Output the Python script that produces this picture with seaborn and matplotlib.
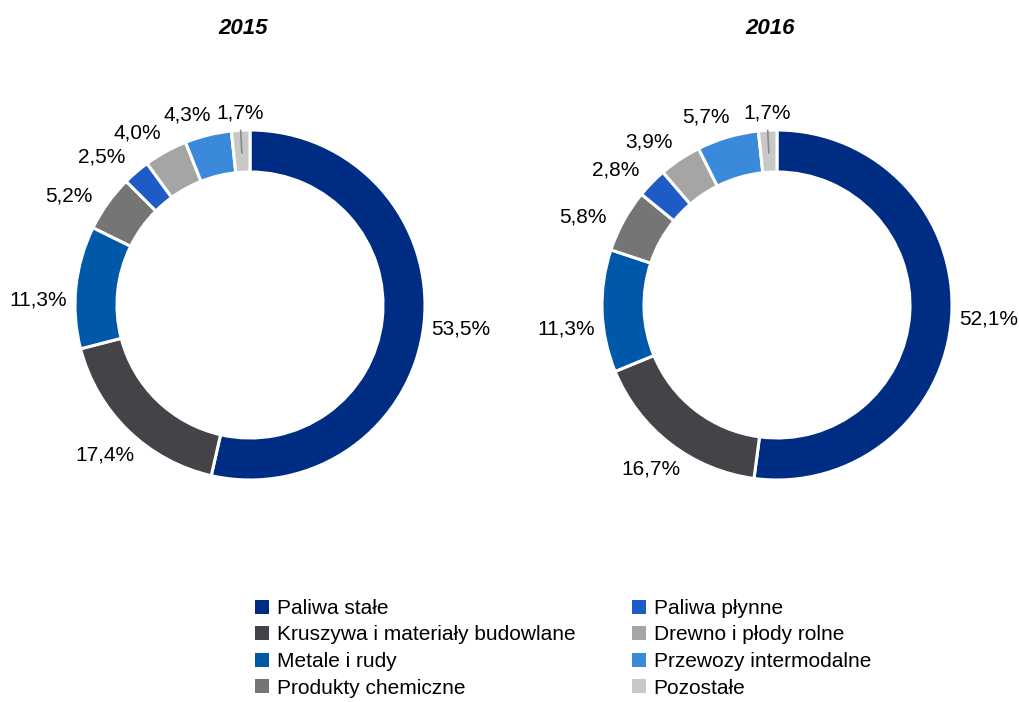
import numpy as np
import matplotlib
matplotlib.use('Agg')
import matplotlib.pyplot as plt
from matplotlib.patches import Patch
import seaborn as sns

# ---------------------------------------------------------------------------
# Dane
# ---------------------------------------------------------------------------

categories = [
    'Paliwa stałe',
    'Kruszywa i materiały budowlane',
    'Metale i rudy',
    'Produkty chemiczne',
    'Paliwa płynne',
    'Drewno i płody rolne',
    'Przewozy intermodalne',
    'Pozostałe',
]
years = ['2015', '2016']
share_2015 = [53.5, 17.4, 11.3, 5.2, 2.5, 4.0, 4.3, 1.7]
share_2016 = [52.1, 16.7, 11.3, 5.8, 2.8, 3.9, 5.7, 1.7]
colors = ['#002D84', '#434348', '#0058A8', '#757575',
          '#1E5BC6', '#A5A5A5', '#3A89DB', '#C8C8C8']

sns.set_theme(style='white')
plt.rcParams['font.family'] = ['Liberation Sans', 'DejaVu Sans']
plt.rcParams['text.color'] = 'black'
FS = 15

W, H = 1019, 702
R_PX = 175            # promień zewnętrzny w pikselach
LIM = 1.3
centers = [(250, 305), (777, 305)]


def _pct(v: float) -> str:
    return f'{v:.1f}'.replace('.', ',') + '%'


def _label_pos(ang_deg):
    a = np.deg2rad(ang_deg)
    c, s = np.cos(a), np.sin(a)
    r = 1.04 + 0.17 * abs(c) + 0.05 * abs(s)
    return r * c, r * s


def draw_donut(ax, values):
    wedges, _ = ax.pie(
        values, colors=colors, startangle=90, counterclock=False,
        radius=1.0, wedgeprops=dict(width=0.24, edgecolor='white', linewidth=2.2),
    )
    ax.set_xlim(-LIM, LIM)
    ax.set_ylim(-LIM, LIM)
    ax.set_aspect('equal')
    ax.axis('off')

    renderer = ax.figure.canvas.get_renderer()
    placed = []
    # od ostatniego (na górze) wstecz; etykiety po lewej lekko odsunięte jak w Excelu
    for i in range(len(values) - 1, -1, -1):
        w = wedges[i]
        mid = (w.theta1 + w.theta2) / 2
        ang = mid + (4.5 if 100 < mid % 360 < 190 else 0)
        t = ax.text(*_label_pos(ang), _pct(values[i]), ha='center', va='center',
                    fontsize=FS, color='black')
        for _ in range(60):
            bb = t.get_window_extent(renderer)
            if not any(bb.overlaps(p) for p in placed):
                break
            ang += 0.5
            t.set_position(_label_pos(ang))
        placed.append(t.get_window_extent(renderer))
        if i == len(values) - 1:
            a = np.deg2rad(mid)
            ax.plot([0.87 * np.cos(a), 1.0 * np.cos(a)],
                    [0.87 * np.sin(a), 1.0 * np.sin(a)], color='#8a8a8a', lw=1.2)


fig = plt.figure(figsize=(W / 100, H / 100), dpi=100)
size = 2 * R_PX * LIM
for (cx, cy), vals, yr in zip(centers, [share_2015, share_2016], years):
    ax = fig.add_axes([(cx - size / 2) / W, (H - cy - size / 2) / H, size / W, size / H])
    draw_donut(ax, vals)
    fig.text((cx - 7) / W, 1 - 28 / H, yr, ha='center', va='center',
             fontsize=16, fontweight='bold', fontstyle='italic', color='black')

handles = [Patch(facecolor=c, edgecolor='none') for c in colors]
leg = fig.legend(
    handles, categories, ncol=2, loc='upper left',
    bbox_to_anchor=(255 / W, 1 - 599 / H), frameon=False,
    fontsize=FS, handlelength=0.66, handleheight=0.66, handletextpad=0.38,
    labelspacing=0.36, columnspacing=2.72, borderpad=0, borderaxespad=0,
)
for txt in leg.get_texts():
    txt.set_color('black')

fig.savefig('out.png', dpi=100)
